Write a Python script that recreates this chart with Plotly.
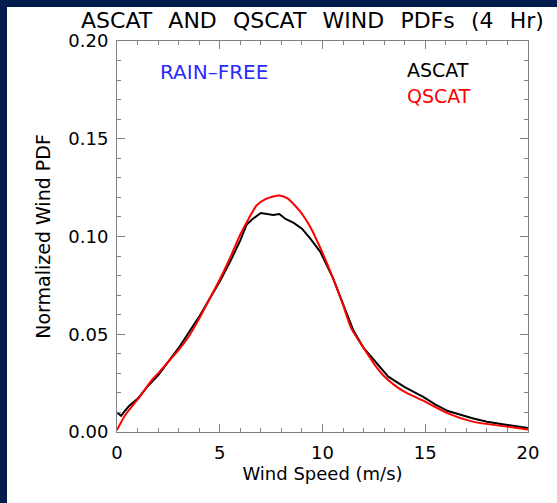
import plotly.graph_objects as go

# ---- data ----
ascat_speed = [0.0, 0.2, 0.4, 0.6, 1.0, 1.5, 2.0, 2.5, 3.0, 3.5, 4.0, 4.5, 5.0, 5.5, 6.0, 6.3,
               6.6, 7.0, 7.3, 7.6, 7.9, 8.2, 8.6, 9.0, 9.4, 9.9, 10.5, 11.0, 11.5, 12.0, 12.6,
               13.2, 14.0, 14.9, 15.5, 16.1, 17.3, 18.0, 19.0, 20.0]
ascat_pdf = [0.010, 0.0083, 0.011, 0.0135, 0.017, 0.0235, 0.029, 0.036, 0.043, 0.051, 0.059,
             0.068, 0.077, 0.087, 0.098, 0.106, 0.109, 0.112, 0.1115, 0.111, 0.1115, 0.109,
             0.107, 0.104, 0.099, 0.092, 0.079, 0.066, 0.052, 0.043, 0.0356, 0.0283, 0.023,
             0.018, 0.014, 0.0107, 0.007, 0.0052, 0.0036, 0.0021]

qscat_speed = [0.0, 0.4, 1.1, 1.7, 2.0, 2.5, 3.0, 3.5, 4.0, 4.5, 5.0, 5.5, 6.0, 6.4, 6.8, 7.2,
               7.6, 7.9, 8.3, 8.9, 9.4, 9.9, 10.5, 11.0, 11.4, 12.0, 12.5, 13.0, 13.5, 14.0,
               14.9, 16.1, 17.3, 19.0, 20.0]
qscat_pdf = [0.001, 0.0087, 0.018, 0.0266, 0.030, 0.036, 0.042, 0.049, 0.058, 0.068, 0.078,
             0.089, 0.101, 0.109, 0.116, 0.119, 0.1205, 0.121, 0.1195, 0.113, 0.105, 0.094,
             0.079, 0.065, 0.053, 0.043, 0.035, 0.0285, 0.024, 0.0205, 0.016, 0.0095, 0.0053,
             0.0027, 0.0013]

x_ticks = [0, 5, 10, 15, 20]
y_ticks = [0.00, 0.05, 0.10, 0.15, 0.20]
y_tick_labels = ["0.00", "0.05", "0.10", "0.15", "0.20"]

title_words = ["ASCAT", "AND", "QSCAT", "WIND", "PDFs", "(4", "Hr)"]
x_title = "Wind Speed (m/s)"
y_title = "Normalized Wind PDF"

# ---- layout geometry (pixels) ----
W, H = 557, 503
L, R, T, B = 117, 29, 41, 71
PW, PH = W - L - R, H - T - B
NAVY = "#031c4e"
FONT = "DejaVu Sans"
AX = "#808080"


def px(xp):
    return (xp - L) / PW


def py(yp):
    return (H - B - yp) / PH


fig = go.Figure()
fig.add_trace(go.Scatter(x=ascat_speed, y=ascat_pdf, mode="lines",
                         line=dict(color="black", width=2), showlegend=False))
fig.add_trace(go.Scatter(x=qscat_speed, y=qscat_pdf, mode="lines",
                         line=dict(color="#ff0000", width=2, shape="spline", smoothing=0.6),
                         showlegend=False))

axis_common = dict(showline=True, linecolor=AX, linewidth=1, mirror="ticks",
                   ticks="inside", tickcolor=AX, tickwidth=1, ticklen=8,
                   showgrid=False, zeroline=False,
                   tickfont=dict(family=FONT, size=18, color="black"))

fig.update_xaxes(range=[0, 20], tickvals=x_ticks,
                 minor=dict(dtick=1, ticks="inside", ticklen=4, tickcolor=AX,
                            showgrid=False),
                 ticklabelstandoff=4,
                 title=dict(text=x_title, font=dict(family=FONT, size=18, color="black"),
                            standoff=2),
                 **axis_common)
fig.update_yaxes(range=[0, 0.2], tickvals=y_ticks, ticktext=y_tick_labels,
                 minor=dict(dtick=0.01, ticks="inside", ticklen=4, tickcolor=AX,
                            showgrid=False),
                 ticklabelstandoff=4,
                 title=dict(text=y_title, font=dict(family=FONT, size=19, color="black"),
                            standoff=12),
                 **axis_common)

annotations = [
    dict(text="\u00a0\u00a0\u200a".join(title_words), x=px(79), y=py(20), xanchor="left",
         yanchor="middle", font=dict(family=FONT, size=22, color="black")),
    dict(text="RAIN\u2013FREE", x=px(158), y=py(72), xanchor="left", yanchor="middle",
         font=dict(family=FONT, size=20, color="#2a2aff")),
    dict(text="ASCAT", x=px(405), y=py(70), xanchor="left", yanchor="middle",
         font=dict(family=FONT, size=19, color="black")),
    dict(text="QSCAT", x=px(405), y=py(96), xanchor="left", yanchor="middle",
         font=dict(family=FONT, size=19, color="#ff0000")),
]
for a in annotations:
    a.update(xref="paper", yref="paper", showarrow=False)

shapes = [
    dict(type="rect", xref="paper", yref="paper", x0=px(0), x1=px(7), y0=py(H), y1=py(0),
         fillcolor=NAVY, line=dict(width=0), layer="below"),
    dict(type="rect", xref="paper", yref="paper", x0=px(0), x1=px(W), y0=py(7), y1=py(0),
         fillcolor=NAVY, line=dict(width=0), layer="below"),
]

fig.update_layout(width=W, height=H, margin=dict(l=L, r=R, t=T, b=B, autoexpand=False),
                  paper_bgcolor="white", plot_bgcolor="white",
                  annotations=annotations, shapes=shapes,
                  font=dict(family=FONT))

fig.write_html("out.html", config=dict(displayModeBar=False))
